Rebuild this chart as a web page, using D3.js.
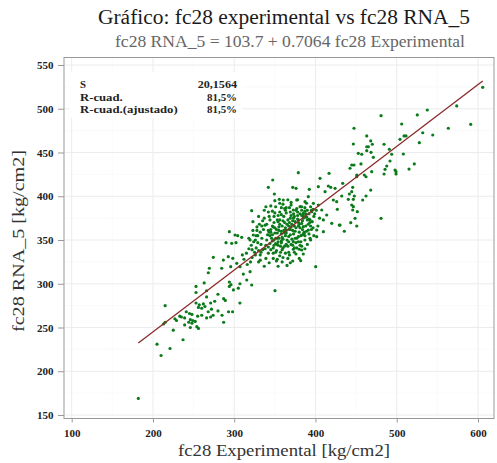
<!DOCTYPE html>
<html>
<head>
<meta charset="utf-8">
<script src="https://cdn.jsdelivr.net/npm/d3@7"></script>
<style>
  body { margin: 0; background: #fff; }
  text { font-family: "Liberation Serif", "DejaVu Serif", serif; }
</style>
</head>
<body>
<svg id="chart" width="497" height="463"></svg>
<script>
// Observed pairs: [fc28 Experimental, fc28 RNA_5] in kg/cm2
const observations = [
  [182,169],
  [263,301],[294,302],[296,299],[307,300],[253,297],[253,290],[266,292],[294,297],[299,293],[305,295],
  [280,288],[266,285],[287,283],[289,281],[215,275],[307,278],[253,278],[257,276],[262,277],[256,273],
  [260,272],[264,274],[271,278],[276,280],[272,271],[268,268],[280,269],[293,268],[298,268],[285,264],
  [241,268],[245,266],[248,265],[233,263],[235,262],[227,260],[229,258],[239,261],[255,263],[260,264],
  [266,261],[271,262],[274,264],[246,259],[249,258],[252,257],[244,256],[248,255],[239,253],[254,251],
  [246,250],[256,249],[287,256],[215,256],[213,254],[225,247],[205,231],[237,236],[221,226],[210,218],
  [321.5,383.5],[294,359.5],[301,355.7],[304.3,354.9],[309.2,353.1],[289.9,346.9],[296.9,346.2],[302.2,346.9],
  [319.5,350],[323.5,355.7],[274.3,330.2],[286.6,327.1],[292.7,330.9],[298.2,329.1],[303.1,323.4],[284.6,317.7],
  [295.7,319.5],[269.4,317.7],[268.1,312.6],[307.1,319.5],[311.2,311.1],[315.4,304.3],[319.5,313.8],[321.5,298.6],
  [350.2,292.1],
  [378.9,426.9],[416.7,426.2],[405.6,420.5],[372,410.2],[376.1,409.1],[392.4,407.9],[391.2,399.5],[403.5,410.9],
  [411.8,405.2],[415.8,411.7],[418.8,410.2],[424.1,409.1],[426.9,385.1],[420,369.1],[429.3,367.1],[435.5,360],
  [409.7,359.5],[401.5,361.4],[401.5,353.8],[393.3,351.9],[385.9,357.7],[383.1,338.6],[380.1,339.4],[372.7,339.4],
  [381.8,326.4],[400.3,319.5],[426.1,393.8],[407.7,384.3],[413.8,378.6],[409.7,372.9],[422,395.7],[397.4,391.9],
  [403.5,390],[395.4,382.4],[393.3,372.9],[389.2,376.6],[385,380.5],[381,388.1],[387.1,393.8],[376.9,395.7],
  [372.7,384.3],[385,365.2],[391.2,361.4],[378.9,353.8],[372.7,348.1],
  [480.7,492.1],[525.3,492.9],[537.6,498.6],[506.1,482.6],[447.4,477.7],[463.1,468.9],[509,468.9],[511.4,468.9],
  [532,472.6],[544.3,470],[527.8,461.2],[446.6,459.7],[468,463.2],[470,459.4],[484.4,459.4],[504,465.1],
  [463.1,456.6],[465.1,456.6],[463.1,452.1],[452.7,449.1],[456.9,448],[468.3,450.2],[471.2,444.5],[490.9,453.7],
  [493.8,448],[508.1,448.3],[491.7,440.3],[487.7,434.6],[485.6,430.8],[497.9,430],[499.1,428.1],[499.1,425.4],
  [484.4,425.4],[521.6,436.9],[515.1,431.1],[444.6,435.7],[447.4,435.7],[442.5,432],[456,436.9],[450.8,424.3],
  [450.8,422.3],[460.1,424.3],[462.2,422.3],[469.2,428.1],[433.5,414.8],[445.8,410.2],[468,407.1],[444.6,405.2],
  [441.7,402.6],[432.3,400.3],[447.8,400.3],[462.2,400.3],[440.4,396.5],[446.6,396.5],[458.1,395.7],[444.6,390],
  [446.6,388.1],[445.8,384.3],[451.5,382.4],[448.7,374.8],[480.7,374.8],[443.4,369.8],[450.8,366],[430.2,367.1],
  [605.8,524.5],[573.8,503.2],[591,482.2],[563.5,477.7],
  [342,410.2],[347.4,418.6],[349.4,402.6],[355.5,396.5],[360.4,395.7],
  [338,367],[342,361],[344,355],[347,349],[339,344],[334,352],[332,359],[335,339],[342,335],[348,341],
  [350,364],[353,358],[355,352],[358,347],[360,341],[351,336],[356,332],[363,335],[366,329],[359,325],
  [344,373],[349,377],[354,371],[359,366],[364,361],[369,356],[365,350],[370,345],[374,341],[367,336],
  [356,382],[361,377],[366,373],[371,368],[376,364],[380,359],[375,352],[379,348],[383,343],[387,350],
  [364,387],[369,382],[374,377],[379,373],[383,369],[388,366],[386,359],[392,357],[390,345],[376,334],
  [348,329],[354,344],[345,359],[340,350],[333,345],[329,355],[337,375],[342,382],[351,388],[360,391],
  [370,390],[376,384],[381,380],[387,387],[392,380],[396,371],[397,364],[349,350],[363,355],[366,343],
  [355,361],[360,351],[371,351],[377,341],[382,355],[372,361],[367,366],[356,373],[350,381],[347,366],
  [339,329],[332,333],[327,341],[343,324],[354,320],[365,321],[372,326],[385,334],[380,329],[364,345],
  [353,345],[361,361],[369,375],[375,371],[334,366],[328,361],[329,347],[345,339],[353,328],[359,339],
  [381,364],[385,375],[390,373],[394,388],[398,377],[366,396],[358,387],[345,389],[337,384],[330,377],
  [323,371],[326,350],[322,339],[330,325],[337,320],[369,324],[376,347],[358,357],[351,352],[342,342],
  [328,365],[323,361],[330,338],[326,333],[332,327],
  [352,362],[356,368],[362,358],[368,362],[372,372],[378,378],[384,372],[388,380],[362,370],[358,349],
  [346,352],[341,356],[336,362],[349,370],[354,378],[364,381],[370,378],[377,386],[383,384],[389,392],
  [395,384],[399,380],[367,354],[373,357],[379,366],[384,362],[391,368],[395,362],[357,343],[351,346],
  [344,346],[338,340],[333,336],[348,335],[352,326],[360,330],[368,333],[374,336],[381,344],[387,340],
  [394,350],[398,355],[403,366],[405,375],[401,384],[362,386],[356,392],[350,395],[370,393],[378,396],
  [340,368],[335,372],[331,368],[327,355],[324,348],[321,344],[318,352],[343,377],[347,383],[339,388],
  [345,362],[350,358],[355,365],[360,372],[365,368],[370,365],[375,360],[380,368],[385,378],[390,384],
  [347,356],[353,352],[358,360],[363,364],[368,370],[373,375],[378,382],[383,388],[388,376],[393,370],
  [349,344],[354,348],[359,353],[364,358],[369,362],[374,366],[379,370],[384,356],[389,360],[394,366],
  [343,359],[348,365],[353,373],[358,379],[363,384],[368,387],[373,380],[378,374],[383,378],[387,383],
  [352,338],[357,336],[362,343],[367,348],[372,344],[377,352],[382,348],[387,355],[392,374],[397,385],
  [315,335],[318,340],[322,330],[312,328],[316,322],[325,336],[320,325],[310,333]
];

// Fitted regression: fc28 RNA_5 = 103.7 + 0.7064 fc28 Experimental
const fitIntercept = 103.7;
const fitSlope = 0.7064;

const xTicks = [100, 200, 300, 400, 500, 600];
const yTicks = [150, 200, 250, 300, 350, 400, 450, 500, 550];

const statNames = ["S", "R-cuad.", "R-cuad.(ajustado)"];
const statValues = ["20,1564", "81,5%", "81,5%"];

const titleText = "Gráfico: fc28 experimental vs fc28 RNA_5";
const subtitleText = "fc28 RNA_5 = 103.7 + 0.7064 fc28 Experimental";
const xTitle = "fc28 Experimental [kg/cm2]";
const yTitle = "fc28 RNA_5 [kg/cm2]";

const svg = d3.select("#chart");
const panel = { left: 64, right: 494, top: 57.5, bottom: 418.5 };

const x = d3.scaleLinear().domain([100, 600]).range([71.7, 478]);
const y = d3.scaleLinear().domain([150, 550]).range([415, 65]);

// set a text's font size, then stretch it to the given width
function sized(sel, size, width) {
  sel.style("font-size", size + "px");
  if (width) sel.attr("textLength", width).attr("lengthAdjust", "spacingAndGlyphs");
  return sel;
}

// grid
const grid = svg.append("g");
const minorX = d3.range(150, 650, 100).filter(v => x(v) < panel.right);
const minorY = d3.range(175, 575, 50).filter(v => y(v) > panel.top);
grid.selectAll(".mx").data(minorX).join("line")
  .attr("x1", d => x(d)).attr("x2", d => x(d))
  .attr("y1", panel.top).attr("y2", panel.bottom)
  .attr("stroke", "#f6f6f6").attr("stroke-width", 0.6);
grid.selectAll(".my").data(minorY).join("line")
  .attr("y1", d => y(d)).attr("y2", d => y(d))
  .attr("x1", panel.left).attr("x2", panel.right)
  .attr("stroke", "#f6f6f6").attr("stroke-width", 0.6);
grid.selectAll(".gx").data(xTicks).join("line")
  .attr("x1", d => x(d)).attr("x2", d => x(d))
  .attr("y1", panel.top).attr("y2", panel.bottom)
  .attr("stroke", "#ececec").attr("stroke-width", 1);
grid.selectAll(".gy").data(yTicks).join("line")
  .attr("y1", d => y(d)).attr("y2", d => y(d))
  .attr("x1", panel.left).attr("x2", panel.right)
  .attr("stroke", "#ececec").attr("stroke-width", 1);

// axes
const xAxis = d3.axisBottom(x).tickValues(xTicks).tickSize(4).tickPadding(7);
const yAxis = d3.axisLeft(y).tickValues(yTicks).tickSize(6).tickPadding(4.5);
const gx = svg.append("g").attr("transform", `translate(0,${panel.bottom})`).call(xAxis);
const gy = svg.append("g").attr("transform", `translate(${panel.left},0)`).call(yAxis);
[gx, gy].forEach(g => {
  g.attr("font-family", null);
  g.select(".domain").remove();
  g.selectAll(".tick line").attr("stroke", "#999");
  g.selectAll(".tick text").attr("fill", "#222").style("font-size", "11px")
    .style("font-weight", "bold");
});

// stats table
const table = svg.append("g");
table.append("rect").attr("x", 70).attr("y", 72).attr("width", 172).attr("height", 46)
  .attr("fill", "#fff");
const nameWidths = [6, 42.7, 97.7];
const valueWidths = [39.3, 30, 30];
statNames.forEach((s, i) => {
  sized(table.append("text").attr("x", 80).attr("y", 88.3 + i * 12.2).text(s)
    .attr("fill", "#222").style("font-weight", "bold"), 11, nameWidths[i]);
  sized(table.append("text").attr("x", 237).attr("y", 88.3 + i * 12.2).text(statValues[i])
    .attr("text-anchor", "end").attr("fill", "#222").style("font-weight", "bold"), 11, valueWidths[i]);
});

// points
svg.append("g").selectAll("circle").data(observations).join("circle")
  .attr("cx", d => x(d[0])).attr("cy", d => y(d[1])).attr("r", 1.6)
  .attr("fill", "#0b7a1a");

// regression line over the observed range
const xr = d3.extent(observations, d => d[0]);
svg.append("line")
  .attr("x1", x(xr[0])).attr("y1", y(fitIntercept + fitSlope * xr[0]))
  .attr("x2", x(xr[1])).attr("y2", y(fitIntercept + fitSlope * xr[1]))
  .attr("stroke", "#8b2a2a").attr("stroke-width", 1.3);

// panel frame
svg.append("rect").attr("x", panel.left).attr("y", panel.top)
  .attr("width", panel.right - panel.left).attr("height", panel.bottom - panel.top)
  .attr("fill", "none").attr("stroke", "#999").attr("stroke-width", 1);

// titles
sized(svg.append("text").attr("x", 284).attr("y", 24).attr("text-anchor", "middle")
  .attr("fill", "#1a1a1a").text(titleText), 20, 372);
sized(svg.append("text").attr("x", 290).attr("y", 47).attr("text-anchor", "middle")
  .attr("fill", "#666").text(subtitleText), 16, 350);
sized(svg.append("text").attr("x", 284).attr("y", 456).attr("text-anchor", "middle")
  .attr("fill", "#333").text(xTitle), 16, 212);
sized(svg.append("text").attr("transform", "translate(24,241) rotate(-90)").attr("text-anchor", "middle")
  .attr("fill", "#333").text(yTitle), 16, 182);
</script>
</body>
</html>
